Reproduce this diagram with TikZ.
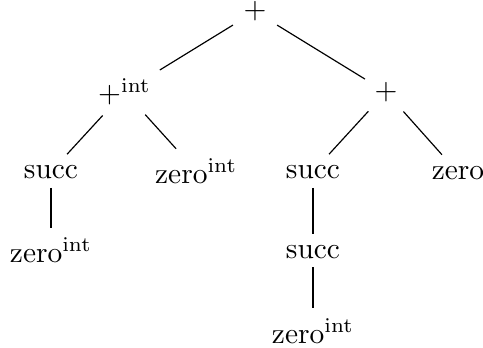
\documentclass[tikz,border=0pt]{standalone}
\begin{document}
\begin{tikzpicture}[x=0.34pt,y=-0.34pt,
  tn/.style={inner sep=0pt,outer sep=0pt,anchor=center},
  br/.style={line width=0.4pt}]
\useasboundingbox (0,0) rectangle (483,347);
\node[tn] (root) at (255,11.5) {$+$};
\node[tn] (pint) at (124.5,91.7) {$+^{\mathrm{int}}$};
\node[tn] (rplus) at (386,92) {$+$};
\node[tn] (succL) at (51,171.7) {succ};
\node[tn] (zeroM) at (196.2,171) {$\mathrm{zero}^{\mathrm{int}}$};
\node[tn] (succR) at (313,171.7) {succ};
\node[tn] (zeroR) at (458,172.7) {zero};
\node[tn] (zeroBL) at (51,250) {$\mathrm{zero}^{\mathrm{int}}$};
\node[tn] (succB) at (313,251.7) {succ};
\node[tn] (zeroB) at (313,331) {$\mathrm{zero}^{\mathrm{int}}$};
\draw[br,shorten <=8.8pt,shorten >=14.1pt] (root.center) -- (pint.center);
\draw[br,shorten <=8.8pt,shorten >=8.4pt] (root.center) -- (rplus.center);
\draw[br,shorten <=11.0pt,shorten >=8.1pt] (pint.center) -- (succL.center);
\draw[br,shorten <=10.5pt,shorten >=10.2pt] (pint.center) -- (zeroM.center);
\draw[br,shorten <=8.9pt,shorten >=8.1pt] (rplus.center) -- (succR.center);
\draw[br,shorten <=8.9pt,shorten >=8.2pt] (rplus.center) -- (zeroR.center);
\draw[br,shorten <=5.5pt,shorten >=7.5pt] (succL.center) -- (zeroBL.center);
\draw[br,shorten <=5.5pt,shorten >=6.0pt] (succR.center) -- (succB.center);
\draw[br,shorten <=5.2pt,shorten >=7.8pt] (succB.center) -- (zeroB.center);
\end{tikzpicture}
\end{document}
